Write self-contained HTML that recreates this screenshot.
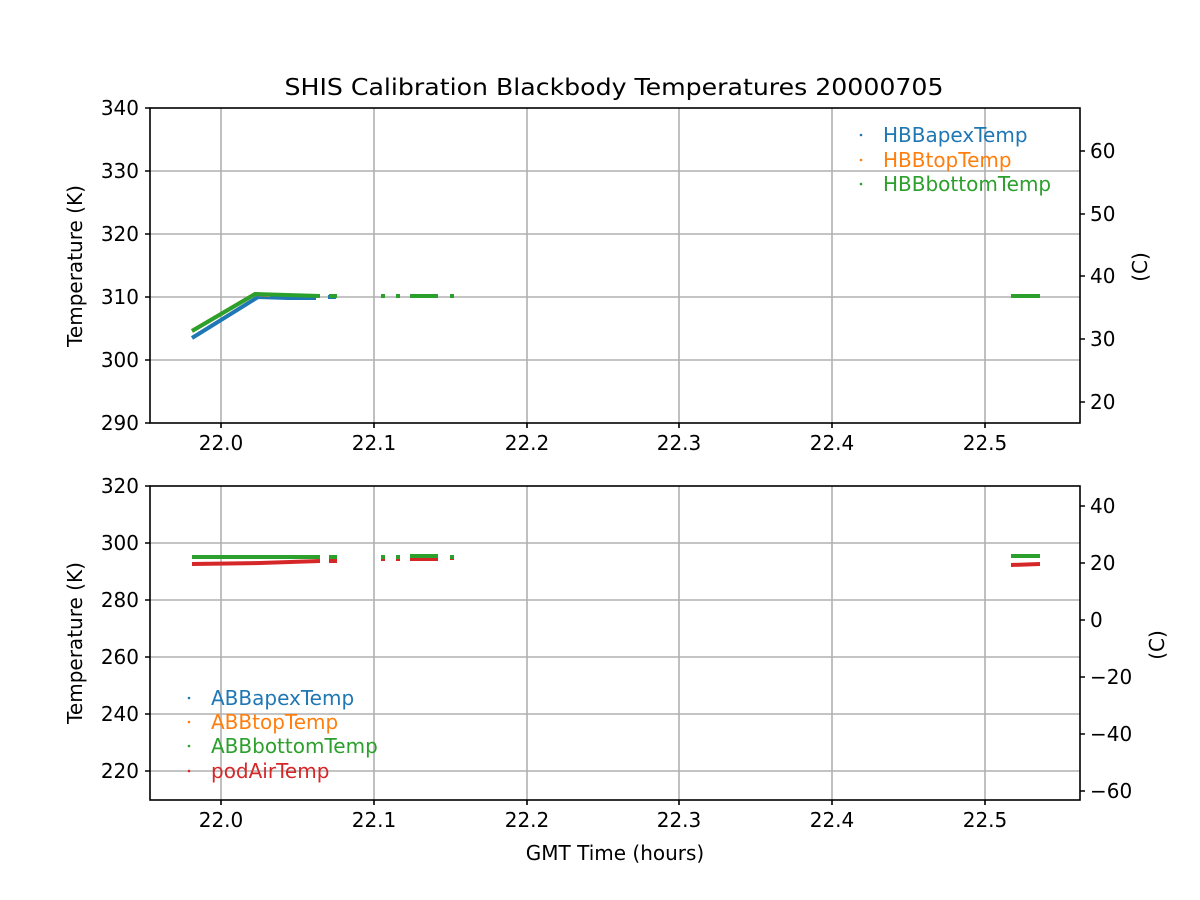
<!DOCTYPE html>
<html><head><style>body{margin:0;background:#fff}svg{display:block}text{font-family:"DejaVu Sans","Liberation Sans",sans-serif}</style></head><body>
<svg width="1200" height="900" viewBox="0 0 1200 900" xmlns="http://www.w3.org/2000/svg">
<rect width="1200" height="900" fill="#fff"/>
<text x="614" y="95" font-size="23" text-anchor="middle" textLength="659" lengthAdjust="spacingAndGlyphs">SHIS Calibration Blackbody Temperatures 20000705</text>
<g stroke="#b0b0b0" stroke-width="1.6">
<line x1="221" y1="108" x2="221" y2="423"/><line x1="374" y1="108" x2="374" y2="423"/><line x1="527" y1="108" x2="527" y2="423"/><line x1="679" y1="108" x2="679" y2="423"/><line x1="832" y1="108" x2="832" y2="423"/><line x1="985" y1="108" x2="985" y2="423"/>
<line x1="150" y1="171" x2="1080" y2="171"/><line x1="150" y1="234" x2="1080" y2="234"/><line x1="150" y1="297" x2="1080" y2="297"/><line x1="150" y1="360" x2="1080" y2="360"/>
<line x1="221" y1="486" x2="221" y2="800"/><line x1="374" y1="486" x2="374" y2="800"/><line x1="527" y1="486" x2="527" y2="800"/><line x1="679" y1="486" x2="679" y2="800"/><line x1="832" y1="486" x2="832" y2="800"/><line x1="985" y1="486" x2="985" y2="800"/>
<line x1="150" y1="543" x2="1080" y2="543"/><line x1="150" y1="600" x2="1080" y2="600"/><line x1="150" y1="657" x2="1080" y2="657"/><line x1="150" y1="714" x2="1080" y2="714"/><line x1="150" y1="771" x2="1080" y2="771"/>
</g>
<g stroke-width="4" fill="none">
<polyline stroke="#1f77b4" points="192,338 258,297 288,298 316,298"/>
<line stroke="#1f77b4" x1="328" y1="297" x2="336" y2="297"/>
<polyline stroke="#ff7f0e" points="192,331 255,294 270,295"/>
<polyline stroke="#2ca02c" points="192,331 255,294 320,296"/>
<line stroke="#2ca02c" x1="329" y1="296" x2="337" y2="296"/>
<line stroke="#2ca02c" x1="381" y1="296" x2="385" y2="296"/>
<line stroke="#2ca02c" x1="396" y1="296" x2="400" y2="296"/>
<line stroke="#2ca02c" x1="410" y1="296" x2="438" y2="296"/>
<line stroke="#2ca02c" x1="450" y1="296" x2="454" y2="296"/>
<line stroke="#2ca02c" x1="1011" y1="296" x2="1040" y2="296"/>
</g>
<g stroke-width="4" fill="none">
<polyline stroke="#d62728" points="192,564 260,563 320,561"/>
<line stroke="#d62728" x1="329" y1="561" x2="337" y2="561"/>
<line stroke="#d62728" x1="381" y1="559" x2="385" y2="559"/>
<line stroke="#d62728" x1="396" y1="559" x2="400" y2="559"/>
<line stroke="#d62728" x1="410" y1="559" x2="438" y2="559"/>
<line stroke="#d62728" x1="450" y1="558" x2="454" y2="558"/>
<line stroke="#d62728" x1="1011" y1="565" x2="1040" y2="564"/>
<line stroke="#2ca02c" x1="192" y1="557" x2="320" y2="557"/>
<line stroke="#2ca02c" x1="329" y1="557" x2="337" y2="557"/>
<line stroke="#2ca02c" x1="381" y1="557" x2="385" y2="557"/>
<line stroke="#2ca02c" x1="396" y1="557" x2="400" y2="557"/>
<line stroke="#2ca02c" x1="410" y1="556" x2="438" y2="556"/>
<line stroke="#2ca02c" x1="450" y1="557" x2="454" y2="557"/>
<line stroke="#2ca02c" x1="1011" y1="556" x2="1040" y2="556"/>
</g>
<rect x="150" y="108" width="930" height="315" fill="none" stroke="#000" stroke-width="1.6"/>
<rect x="150" y="486" width="930" height="314" fill="none" stroke="#000" stroke-width="1.6"/>
<g stroke="#000" stroke-width="1.6">
<path d="M221,423v5M374,423v5M527,423v5M679,423v5M832,423v5M985,423v5M221,800v5M374,800v5M527,800v5M679,800v5M832,800v5M985,800v5"/>
<path d="M150,108h-5M150,171h-5M150,234h-5M150,297h-5M150,360h-5M150,423h-5"/>
<path d="M150,486h-5M150,543h-5M150,600h-5M150,657h-5M150,714h-5M150,771h-5"/>
<path d="M1080,151h5M1080,214h5M1080,276h5M1080,339h5M1080,402h5"/>
<path d="M1080,506h5M1080,563h5M1080,620h5M1080,677h5M1080,734h5M1080,791h5"/>
</g>
<g font-size="20" fill="#000">
<g text-anchor="middle">
<text x="221" y="450">22.0</text><text x="374" y="450">22.1</text><text x="527" y="450">22.2</text><text x="679" y="450">22.3</text><text x="832" y="450">22.4</text><text x="985" y="450">22.5</text>
<text x="221" y="827">22.0</text><text x="374" y="827">22.1</text><text x="527" y="827">22.2</text><text x="679" y="827">22.3</text><text x="832" y="827">22.4</text><text x="985" y="827">22.5</text>
<text x="615" y="860">GMT Time (hours)</text>
</g>
<g text-anchor="end">
<text x="139" y="115">340</text><text x="139" y="178">330</text><text x="139" y="241">320</text><text x="139" y="304">310</text><text x="139" y="367">300</text><text x="139" y="430">290</text>
<text x="139" y="493">320</text><text x="139" y="550">300</text><text x="139" y="607">280</text><text x="139" y="664">260</text><text x="139" y="721">240</text><text x="139" y="778">220</text>
</g>
<g>
<text x="1090" y="158">60</text><text x="1090" y="221">50</text><text x="1090" y="283">40</text><text x="1090" y="346">30</text><text x="1090" y="409">20</text>
<text x="1090" y="513">40</text><text x="1090" y="570">20</text><text x="1090" y="627">0</text><text x="1090" y="684">−20</text><text x="1090" y="741">−40</text><text x="1090" y="798">−60</text>
</g>
<text transform="translate(82,266) rotate(-90)" text-anchor="middle">Temperature (K)</text>
<text transform="translate(82,643) rotate(-90)" text-anchor="middle">Temperature (K)</text>
<text transform="translate(1147,267) rotate(-90)" text-anchor="middle">(C)</text>
<text transform="translate(1164,645) rotate(-90)" text-anchor="middle">(C)</text>
<text x="883" y="142" fill="#1f77b4">HBBapexTemp</text>
<text x="883" y="167" fill="#ff7f0e">HBBtopTemp</text>
<text x="883" y="191" fill="#2ca02c">HBBbottomTemp</text>
<text x="211" y="705" fill="#1f77b4">ABBapexTemp</text>
<text x="211" y="729" fill="#ff7f0e">ABBtopTemp</text>
<text x="211" y="753" fill="#2ca02c">ABBbottomTemp</text>
<text x="211" y="778" fill="#d62728">podAirTemp</text>
</g>
<circle cx="861" cy="135" r="1.3" fill="#1f77b4"/><circle cx="861" cy="160" r="1.3" fill="#ff7f0e"/><circle cx="861" cy="184" r="1.3" fill="#2ca02c"/>
<circle cx="189" cy="698" r="1.3" fill="#1f77b4"/><circle cx="189" cy="722" r="1.3" fill="#ff7f0e"/><circle cx="189" cy="746" r="1.3" fill="#2ca02c"/><circle cx="189" cy="771" r="1.3" fill="#d62728"/>
</svg>
</body></html>
